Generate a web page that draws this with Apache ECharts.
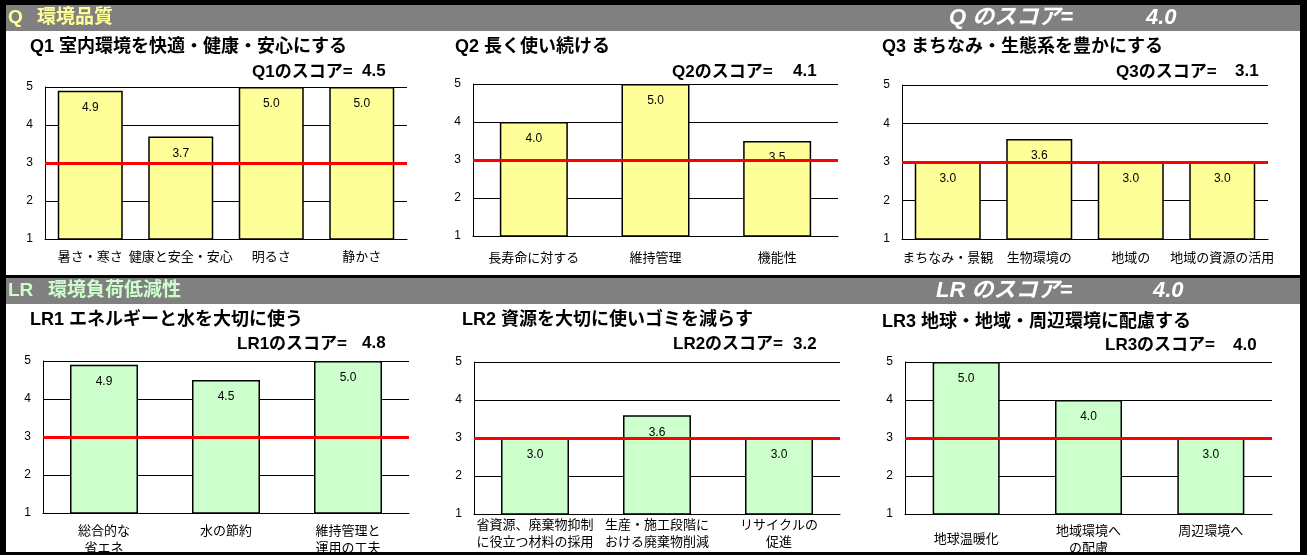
<!DOCTYPE html>
<html><head><meta charset="utf-8">
<script src="https://cdn.jsdelivr.net/npm/echarts@6/dist/echarts.min.js"></script>
<style>html,body{margin:0;padding:0;background:#000;}#c{width:1307px;height:555px;}</style>
</head><body><div id="c"></div>
<script>
// ---------- data ----------
const sectionCodes = ['Q', 'LR'];
const sectionNames = ['環境品質', '環境負荷低減性'];
const sectionScoreLabels = ['Q のスコア=', 'LR のスコア='];
const sectionScores = ['4.0', '4.0'];

const panelTitles = ['Q1 室内環境を快適・健康・安心にする', 'Q2 長く使い続ける', 'Q3 まちなみ・生態系を豊かにする',
  'LR1 エネルギーと水を大切に使う', 'LR2 資源を大切に使いゴミを減らす', 'LR3 地球・地域・周辺環境に配慮する'];
const panelScoreLabels = ['Q1のスコア=', 'Q2のスコア=', 'Q3のスコア=', 'LR1のスコア=', 'LR2のスコア=', 'LR3のスコア='];
const panelScores = ['4.5', '4.1', '3.1', '4.8', '3.2', '4.0'];

const q1Categories = ['暑さ・寒さ', '健康と安全・安心', '明るさ', '静かさ'];
const q1Values = [4.9, 3.7, 5.0, 5.0];
const q2Categories = ['長寿命に対する', '維持管理', '機能性'];
const q2Values = [4.0, 5.0, 3.5];
const q3Categories = ['まちなみ・景観', '生物環境の', '地域の', '地域の資源の活用'];
const q3Values = [3.0, 3.6, 3.0, 3.0];
const lr1Categories = ['総合的な\n省エネ', '水の節約', '維持管理と\n運用の工夫'];
const lr1Values = [4.9, 4.5, 5.0];
const lr2Categories = ['省資源、廃棄物抑制\nに役立つ材料の採用', '生産・施工段階に\nおける廃棄物削減', 'リサイクルの\n促進'];
const lr2Values = [3.0, 3.6, 3.0];
const lr3Categories = ['地球温暖化', '地域環境へ\nの配慮', '周辺環境へ'];
const lr3Values = [5.0, 4.0, 3.0];

const yMin = 1, yMax = 5, yStep = 1;
const referenceLevel = 3;

// ---------- layout / style ----------
const FF = "'Liberation Sans','Noto Sans CJK JP',sans-serif";
const YELLOW = '#FFFF99', GREEN = '#CCFFCC';
const panels = [
  {cats: q1Categories, vals: q1Values, grid: {left: 45, top: 87, width: 362, height: 152}, bw: 65, lm: 10, t: [30, 47], s: [252, 72], n: [362, 71], color: YELLOW},
  {cats: q2Categories, vals: q2Values, grid: {left: 473, top: 84, width: 365, height: 152}, bw: 68, lm: 14, t: [455, 47], s: [672, 72], n: [793, 71], color: YELLOW},
  {cats: q3Categories, vals: q3Values, grid: {left: 902, top: 85, width: 366, height: 154}, bw: 66, lm: 11, t: [882, 47], s: [1116, 72], n: [1235, 71], color: YELLOW},
  {cats: lr1Categories, vals: lr1Values, grid: {left: 43, top: 361, width: 366, height: 152}, bw: 68, lm: 10, t: [30, 320], s: [237, 344], n: [362, 343], color: GREEN},
  {cats: lr2Categories, vals: lr2Values, grid: {left: 474, top: 362, width: 366, height: 152}, bw: 68, lm: 3, t: [462, 320], s: [673, 344], n: [793, 344], color: GREEN},
  {cats: lr3Categories, vals: lr3Values, grid: {left: 905, top: 362, width: 367, height: 152}, bw: 67, lm: 9, t: [882, 322], s: [1105, 345], n: [1233, 345], color: GREEN, pad: {0: 8}}
];

const graphics = [
  {type: 'rect', shape: {x: 6, y: 5, width: 1294, height: 547}, style: {fill: '#fff'}, silent: true},
  {type: 'rect', shape: {x: 6, y: 5, width: 1294, height: 26}, style: {fill: '#808080'}, silent: true},
  {type: 'rect', shape: {x: 6, y: 275, width: 1294, height: 3}, style: {fill: '#000'}, silent: true},
  {type: 'rect', shape: {x: 6, y: 278, width: 1294, height: 26}, style: {fill: '#808080'}, silent: true}
];
const headerY = [18, 291];
const headerColors = [YELLOW, GREEN];
const headerNameX = [37, 48];
const headerScoreX = [949, 936];
const headerNumX = [1146, 1153];
function txt(x, y, text, font, fill) {
  return {type: 'text', silent: true, z: 10, style: {x: x, y: y, text: text, font: font, fill: fill, align: 'left', verticalAlign: 'middle'}};
}
for (let i = 0; i < 2; i++) {
  graphics.push(txt(8, headerY[i], sectionCodes[i], 'bold 19px ' + FF, headerColors[i]));
  graphics.push(txt(headerNameX[i], headerY[i], sectionNames[i], 'bold 19px ' + FF, headerColors[i]));
  graphics.push(txt(headerScoreX[i], headerY[i], sectionScoreLabels[i], 'italic bold 22px ' + FF, '#fff'));
  graphics.push(txt(headerNumX[i], headerY[i], sectionScores[i], 'italic bold 22px ' + FF, '#fff'));
}
panels.forEach((p, i) => {
  graphics.push(txt(p.t[0], p.t[1], panelTitles[i], 'bold 18px ' + FF, '#000'));
  graphics.push(txt(p.s[0], p.s[1], panelScoreLabels[i], 'bold 17px ' + FF, '#000'));
  graphics.push(txt(p.n[0], p.n[1], panelScores[i], 'bold 17px ' + FF, '#000'));
});

const option = {
  backgroundColor: '#000',
  animation: false,
  graphic: graphics,
  grid: panels.map(p => Object.assign({show: true, borderColor: '#000', borderWidth: 1, backgroundColor: 'transparent', containLabel: false, outerBoundsMode: 'none'}, p.grid)),
  xAxis: panels.map((p, i) => ({
    type: 'category', gridIndex: i,
    data: p.cats.map((c, k) => (p.pad && p.pad[k] != null) ? {value: c, textStyle: {padding: [p.pad[k], 0, 0, 0]}} : c),
    axisLine: {show: true, lineStyle: {color: '#000', width: 1}},
    axisTick: {show: false},
    axisLabel: {interval: 0, color: '#000', fontSize: 13, lineHeight: 17, margin: p.lm, fontFamily: FF, verticalAlign: 'top'}
  })),
  yAxis: panels.map((p, i) => ({
    type: 'value', gridIndex: i, min: yMin, max: yMax, interval: yStep,
    axisLine: {show: true, lineStyle: {color: '#000', width: 1}},
    axisTick: {show: false},
    splitLine: {show: true, lineStyle: {color: '#000', width: 1}},
    axisLabel: {color: '#000', fontSize: 12, margin: 12, fontFamily: FF}
  })),
  series: panels.map((p, i) => ({
    type: 'bar', xAxisIndex: i, yAxisIndex: i, data: p.vals, barWidth: p.bw,
    itemStyle: {color: p.color, borderColor: '#000', borderWidth: 1.5},
    emphasis: {disabled: true},
    label: {show: true, position: 'insideTop', distance: 11, color: '#000', fontSize: 12, fontFamily: FF,
      formatter: v => Number(v.value).toFixed(1)},
    markLine: {silent: true, symbol: 'none', animation: false, label: {show: false},
      lineStyle: {color: '#FF0000', width: 3, type: 'solid'}, emphasis: {disabled: true},
      data: [{yAxis: referenceLevel}]}
  }))
};
const chart = echarts.init(document.getElementById('c'), null, {renderer: 'canvas'});
chart.setOption(option);
</script></body></html>
